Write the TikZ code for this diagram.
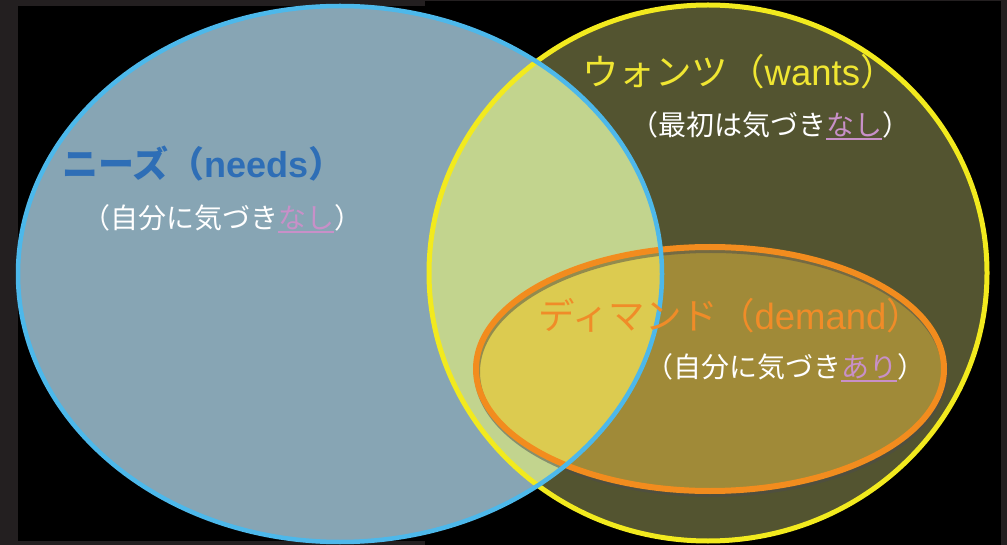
\documentclass[tikz,border=0pt]{standalone}
\usepackage{fontspec}
\setmainfont{Noto Sans CJK JP}
\newfontfamily\latfont{Liberation Sans}
\definecolor{framegrey}{HTML}{231F20}
\definecolor{needsfill}{HTML}{87A5B4}
\definecolor{needsline}{HTML}{4DB8EA}
\definecolor{wantsfill}{HTML}{535430}
\definecolor{wantsline}{HTML}{F2EA1E}
\definecolor{overlapfill}{HTML}{C2D48E}
\definecolor{demandfill}{HTML}{A08A38}
\definecolor{demandboth}{HTML}{DCCB50}
\definecolor{demandline}{HTML}{F28C1E}
\definecolor{needstext}{HTML}{2E6EB6}
\definecolor{wantstext}{HTML}{F0E632}
\definecolor{demandtext}{HTML}{F08C28}
\definecolor{pinktext}{HTML}{C890C8}
\newcommand\ulpink[1]{{\color{pinktext}\setbox0\hbox{#1}\rlap{\rule[-4.5pt]{\wd0}{1.8pt}}\box0}}
\tikzset{
  title/.style={anchor=west, inner sep=0pt, font=\fontsize{36.5}{40}\selectfont},
  sub/.style={anchor=west, inner sep=0pt, text=white, font=\fontsize{28}{32}\selectfont},
}
\begin{document}
\begin{tikzpicture}[x=1pt,y=-1pt]
\useasboundingbox (0,0) rectangle (1007,545);
% frame
\fill[framegrey] (0,0) rectangle (1007,545);
\fill[black] (18,6) rectangle (1001,541);
\fill[black] (425,1) rectangle (1001,545);
% fills
\fill[wantsfill] (708,273) ellipse [x radius=279pt, y radius=268pt];
\fill[demandfill] (710,369) ellipse [x radius=234pt, y radius=122pt];
\fill[needsfill] (340,274) ellipse [x radius=322pt, y radius=268pt];
\begin{scope}
  \clip (340,274) ellipse [x radius=322pt, y radius=268pt];
  \fill[overlapfill] (708,273) ellipse [x radius=279pt, y radius=268pt];
  \fill[demandboth] (710,369) ellipse [x radius=234pt, y radius=122pt];
\end{scope}
% outlines
\draw[wantsline, line width=5pt] (708,273) ellipse [x radius=279pt, y radius=268pt];
\draw[black!70, opacity=0.5, line width=6pt] (711,372) ellipse [x radius=234pt, y radius=122pt];
\draw[demandline, line width=6pt] (710,369) ellipse [x radius=234pt, y radius=122pt];
\draw[needsline, line width=4.5pt] (340,274) ellipse [x radius=322pt, y radius=268pt];
% texts
\node[title, text=needstext, font=\fontsize{36}{40}\selectfont\bfseries] (needs) at (62,164) {ニーズ（{\latfont\bfseries needs}）};
\node[sub] (needsnote) at (82,219) {（自分に気づき\ulpink{なし}）};
\node[title, text=wantstext] (wants) at (582,72) {ウォンツ（{\latfont wants}）};
\node[sub] (wantsnote) at (630,126) {（最初は気づき\ulpink{なし}）};
\node[title, text=demandtext] (demand) at (538,316) {ディマンド（{\latfont demand}）};
\node[sub] (demandnote) at (645,368) {（自分に気づき\ulpink{あり}）};
\end{tikzpicture}
\end{document}
